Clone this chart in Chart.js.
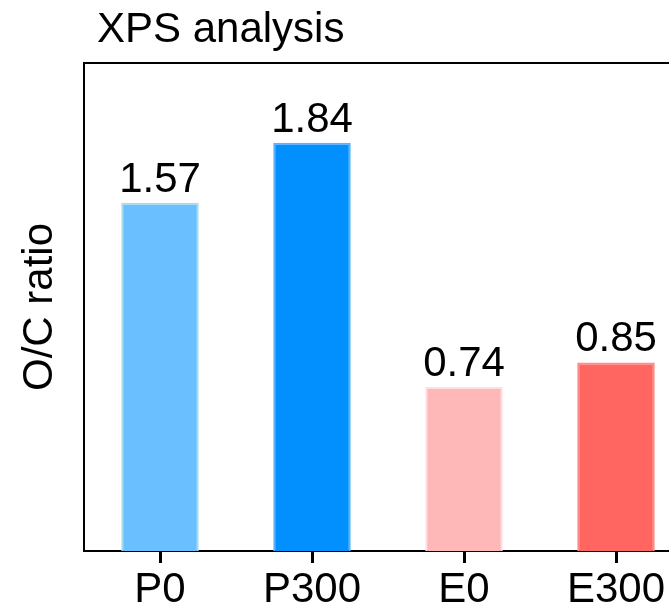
<!DOCTYPE html>
<html>
<head>
<meta charset="utf-8">
<script src="https://cdn.jsdelivr.net/npm/chart.js@4/dist/chart.umd.min.js"></script>
<style>
  html, body { margin: 0; padding: 0; background: #fff; overflow: hidden; }
  #wrap { width: 669px; height: 610px; overflow: hidden; }
</style>
</head>
<body>
<div id="wrap"><canvas id="xps" width="692" height="610"></canvas></div>
<script>
const categories = ['P0', 'P300', 'E0', 'E300'];
const ocRatio = [1.57, 1.84, 0.74, 0.85];
const valueLabels = ['1.57', '1.84', '0.74', '0.85'];
const fillColors = ['#6abfff', '#0190fe', '#ffb8b8', '#ff6661'];
const edgeColors = ['#a9dcea', '#5ab2ff', '#ffdfe5', '#ff8a86'];

const FONT = "'Liberation Sans', Arial, sans-serif";

// frame, tick marks, title and numbers over the bars
const extras = {
    id: 'extras',
    afterDraw(chart) {
        let ctx = chart.ctx;
        let area = chart.chartArea;
        let meta = chart.getDatasetMeta(0);
        ctx.save();
        ctx.strokeStyle = '#000';
        ctx.fillStyle = '#000';
        ctx.lineWidth = 2;
        ctx.beginPath();
        ctx.moveTo(area.left, area.bottom);
        ctx.lineTo(area.left, area.top);
        ctx.lineTo(area.right, area.top);
        ctx.stroke();

        // little ticks under each category
        meta.data.forEach((bar) => {
            let px = Math.round(bar.x);
            ctx.fillRect(px - 1, area.bottom, 3, 12);
        });

        ctx.font = '42px ' + FONT;
        ctx.textAlign = 'left';
        ctx.textBaseline = 'alphabetic';
        ctx.fillText('XPS analysis', 97, 42);

        ctx.textAlign = 'center';
        meta.data.forEach((bar, i) => {
            ctx.fillText(valueLabels[i], bar.x, bar.y - 11);
        });
        ctx.restore();
    }
};

let elem = document.getElementById('xps').getContext('2d');

new Chart(elem, {
    type: 'bar',
    data: {
        labels: categories,
        datasets: [{
            data: ocRatio,
            backgroundColor: fillColors,
            borderColor: edgeColors,
            borderWidth: 2,
            borderSkipped: 'bottom',
            categoryPercentage: 1,
            barPercentage: 0.51
        }]
    },
    options: {
        responsive: false,
        animation: false,
        layout: { padding: { top: 63, left: 0, right: 0, bottom: 0 } },
        plugins: {
            legend: { display: false },
            tooltip: { enabled: false }
        },
        scales: {
            x: {
                grid: { display: false, drawTicks: true, tickLength: 12 },
                border: { display: true, color: '#000', width: 2 },
                ticks: {
                    color: '#000',
                    font: { family: FONT, size: 42 },
                    padding: 2,
                    maxRotation: 0
                },
                afterFit(scale) { scale.height = 59; }
            },
            y: {
                min: 0,
                max: 2.2,
                grid: { display: false, drawTicks: false },
                border: { display: true, color: '#000', width: 2 },
                ticks: { display: false },
                title: {
                    display: true,
                    text: 'O/C ratio',
                    color: '#000',
                    font: { family: FONT, size: 42 },
                    padding: { top: 15, bottom: 0 }
                },
                afterFit(scale) { scale.width = 84; }
            }
        }
    },
    plugins: [extras]
});
</script>
</body>
</html>
